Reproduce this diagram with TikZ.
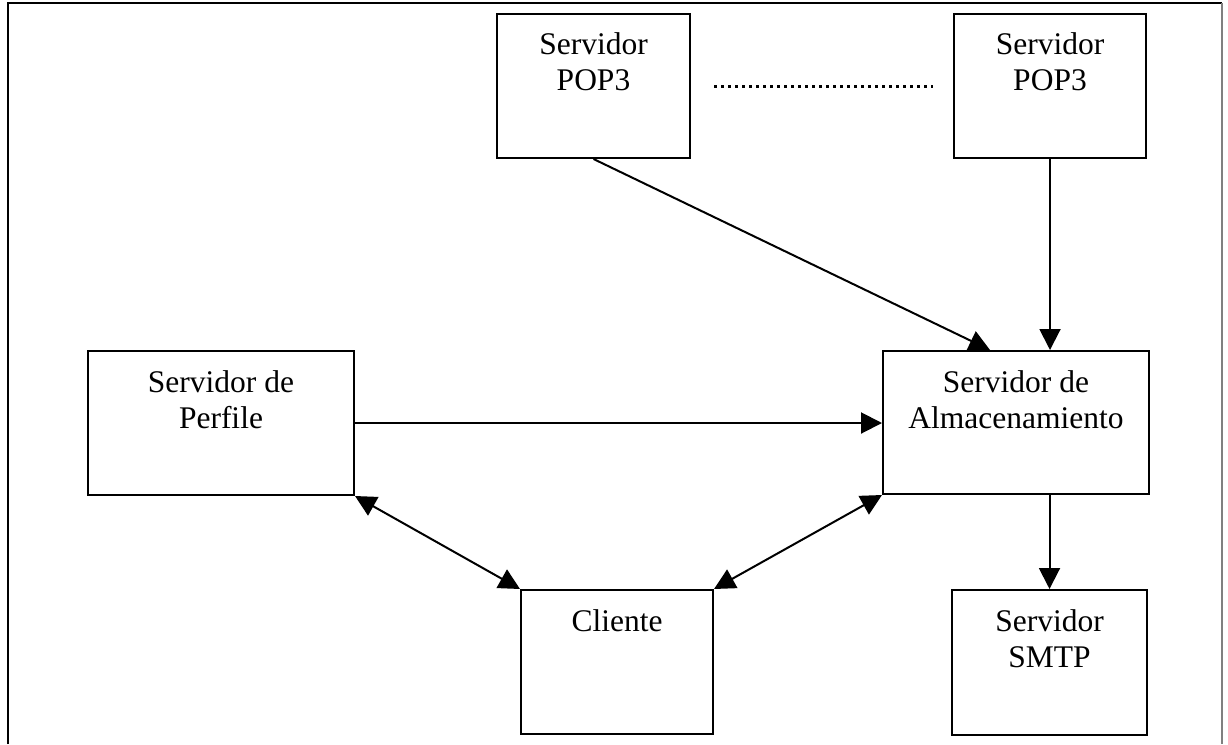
\documentclass[tikz,border=0pt]{standalone}
\usepackage{fontspec}
\setmainfont{Liberation Serif}
\usetikzlibrary{arrows.meta}
\usetikzlibrary{positioning}
\tikzset{srv/.style = {draw, line width=2pt, inner sep=0, minimum width=#1, minimum height=144pt}}
\tikzset{srv/.default = 193pt}
\tikzset{txt/.style = {align=center, inner sep=0, font=\fontsize{31.5pt}{36pt}\selectfont}}
\tikzset{flecha/.style = {line width=2pt, -{Triangle[length=21pt, width=21pt]}}}
\tikzset{dflecha/.style = {line width=2pt, {Triangle[length=21pt, width=21pt]}-{Triangle[length=21pt, width=21pt]}}}

\begin{document}
\begin{tikzpicture}[x=1pt, y=-1pt]
    \useasboundingbox (0, 0) rectangle (1228, 744);
    \draw [line width=2pt] (8, 744) -- (8, 3) -- (1222, 3);
    \draw [line width=1.5pt, gray] (1222, 3) -- (1222, 744);

    \node [srv] (pop1) at (593.5, 86) {};
    \node [txt, below=19pt of pop1.north] (pop1txt) {Servidor\\POP3};

    \node [srv=192pt] (pop2) at (1050, 86) {};
    \node [txt, below=19pt of pop2.north] (pop2txt) {Servidor\\POP3};

    \node [srv=266pt] (perf) at (221, 423) {};
    \node [txt, below=20pt of perf.north] (perftxt) {Servidor de\\Perfile};

    \node [srv=266pt, minimum height=143pt] (alm) at (1016, 422.5) {};
    \node [txt, below=20pt of alm.north] (almtxt) {Servidor de\\Almacenamiento};

    \node [srv=192pt] (cli) at (617, 662) {};
    \node [txt, below=20pt of cli.north] (clitxt) {Cliente};

    \node [srv=195pt, minimum height=145pt] (smtp) at (1049.5, 662.5) {};
    \node [txt, below=20pt of smtp.north] (smtptxt) {Servidor\\SMTP};

    \draw [line width=3pt, dash pattern=on 2.5pt off 4.5pt, shorten <=23pt, shorten >=20pt] (pop1.east) -- (pop2.west);

    \draw [flecha] (pop1.south) -- ([xshift=-26pt]alm.north);
    \draw [flecha] (pop2.south) -- (pop2.south |- alm.north);
    \draw [flecha] (perf.east) -- (perf.east -| alm.west);
    \draw [dflecha] (perf.south east) -- (cli.north west);
    \draw [dflecha] (alm.south west) -- (cli.north east);
    \draw [flecha] (smtp.north |- alm.south) -- (smtp.north);
\end{tikzpicture}
\end{document}
